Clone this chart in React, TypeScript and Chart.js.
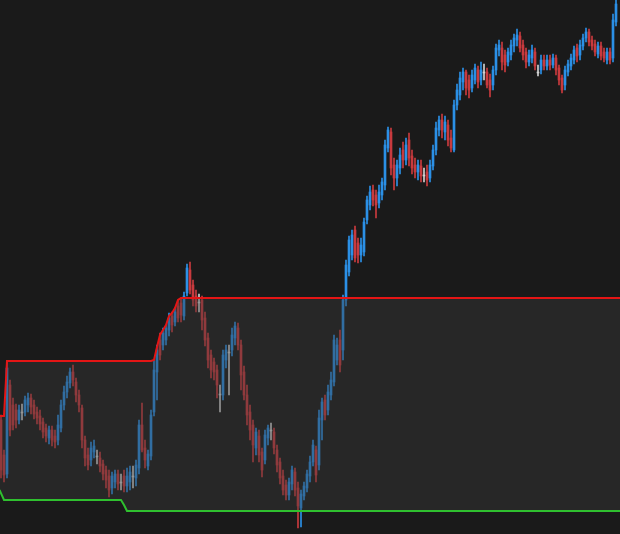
import { useEffect, useRef } from "react";
import { Chart, registerables } from "chart.js";

Chart.register(...registerables);

// OHLC candles (price units)
const opens = [
  114, 79, 60, 149, 129, 124, 114, 122, 122, 129,
  136, 129, 122, 118, 112, 106, 96, 104, 98, 94,
  106, 129, 142, 151, 162, 152, 139, 126, 94, 79,
  74, 82, 78, 76, 70, 64, 58, 46, 52, 60,
  52, 58, 48, 52, 58, 56, 66, 109, 86, 68,
  78, 122, 162, 194, 189, 194, 204, 218, 212, 228,
  231, 218, 241, 264, 249, 238, 232, 234, 216, 196,
  179, 172, 164, 140, 139, 174, 182, 184, 196, 206,
  189, 162, 139, 122, 109, 86, 98, 82, 74, 96,
  104, 102, 84, 72, 58, 49, 39, 50, 62, 46,
  26, 38, 46, 58, 72, 84, 69, 114, 134, 124,
  139, 152, 174, 194, 184, 234, 262, 279, 304, 291,
  279, 282, 314, 329, 344, 339, 331, 339, 349, 386,
  402, 369, 356, 366, 384, 374, 394, 378, 369, 362,
  368, 359, 362, 356, 368, 384, 404, 414, 402, 409,
  396, 384, 429, 439, 452, 462, 454, 446, 454, 464,
  454, 462, 462, 454, 449, 464, 484, 486, 479, 472,
  479, 488, 494, 498, 489, 482, 472, 476, 482, 462,
  464, 474, 468, 474, 469, 476, 466, 456, 449, 462,
  468, 474, 486, 479, 488, 496, 502, 494, 490, 480,
  488, 482, 474, 482, 476, 512,
];
const highs = [
  119, 84, 172, 154, 136, 130, 129, 130, 138, 141,
  140, 134, 127, 124, 116, 110, 108, 108, 104, 119,
  134, 148, 158, 166, 169, 156, 144, 129, 98, 86,
  92, 94, 84, 82, 74, 68, 64, 62, 64, 64,
  60, 64, 66, 68, 68, 74, 114, 131, 94, 84,
  124, 174, 189, 201, 206, 209, 221, 222, 226, 234,
  236, 242, 270, 272, 254, 244, 240, 238, 222, 201,
  184, 176, 169, 149, 184, 189, 189, 206, 212, 211,
  194, 168, 149, 129, 114, 106, 104, 86, 104, 109,
  111, 106, 89, 76, 64, 54, 56, 68, 66, 52,
  44, 52, 64, 78, 94, 88, 124, 136, 139, 149,
  162, 199, 196, 204, 239, 274, 298, 304, 308, 296,
  296, 316, 338, 348, 349, 344, 349, 356, 394, 407,
  406, 376, 374, 386, 392, 396, 401, 384, 376, 374,
  374, 366, 369, 374, 389, 412, 418, 420, 418, 414,
  404, 434, 450, 462, 466, 464, 459, 464, 470, 468,
  472, 470, 466, 460, 468, 490, 494, 492, 484, 486,
  494, 500, 505, 502, 494, 486, 484, 489, 486, 469,
  479, 479, 479, 479, 480, 479, 469, 459, 468, 474,
  480, 488, 490, 494, 500, 506, 505, 498, 494, 492,
  492, 486, 486, 486, 520, 534,
];
const lows = [
  56, 52, 56, 98, 104, 106, 110, 114, 118, 122,
  120, 115, 110, 104, 96, 92, 90, 88, 86, 89,
  102, 124, 136, 146, 148, 132, 122, 86, 68, 64,
  68, 76, 70, 62, 54, 46, 37, 40, 46, 44,
  44, 42, 42, 44, 46, 48, 60, 82, 66, 64,
  74, 118, 134, 174, 184, 189, 198, 202, 208, 212,
  212, 214, 238, 240, 228, 222, 222, 204, 188, 166,
  156, 154, 136, 122, 134, 166, 139, 178, 189, 184,
  144, 134, 109, 94, 72, 79, 72, 57, 70, 89,
  94, 80, 62, 50, 39, 34, 34, 44, 38, 6,
  7, 34, 42, 52, 68, 52, 64, 94, 114, 119,
  134, 148, 169, 162, 174, 228, 258, 274, 272, 271,
  272, 278, 310, 324, 328, 316, 326, 334, 344, 382,
  359, 344, 348, 360, 366, 369, 368, 360, 356, 354,
  352, 352, 348, 352, 364, 379, 398, 396, 394, 388,
  382, 382, 424, 434, 444, 439, 436, 442, 450, 446,
  449, 454, 446, 437, 444, 459, 478, 464, 462, 468,
  474, 482, 488, 482, 474, 466, 468, 471, 464, 458,
  460, 464, 464, 464, 466, 459, 449, 441, 444, 458,
  464, 470, 472, 474, 484, 492, 488, 484, 478, 476,
  474, 472, 470, 470, 472, 508,
];
const closes = [
  64, 59, 166, 104, 109, 114, 124, 121, 134, 136,
  127, 120, 116, 110, 102, 98, 104, 94, 92, 109,
  129, 142, 152, 162, 154, 139, 129, 94, 76, 69,
  86, 88, 77, 68, 60, 54, 44, 58, 60, 50,
  51, 48, 58, 62, 57, 69, 109, 84, 74, 80,
  119, 164, 184, 179, 201, 206, 216, 209, 222, 216,
  219, 238, 266, 244, 234, 228, 231, 214, 194, 174,
  164, 162, 149, 139, 179, 184, 181, 199, 208, 189,
  159, 139, 119, 104, 89, 102, 79, 64, 99, 106,
  103, 86, 69, 56, 44, 39, 52, 64, 44, 28,
  40, 48, 60, 72, 89, 59, 116, 132, 119, 142,
  154, 194, 189, 169, 234, 269, 294, 299, 276, 279,
  289, 312, 334, 342, 334, 329, 342, 352, 389, 404,
  366, 356, 369, 379, 374, 389, 376, 366, 362, 369,
  358, 358, 354, 369, 384, 406, 414, 404, 412, 394,
  386, 429, 444, 456, 462, 446, 444, 459, 466, 452,
  464, 461, 449, 444, 464, 486, 489, 472, 469, 482,
  489, 496, 499, 486, 479, 472, 479, 484, 468, 461,
  474, 468, 474, 469, 476, 464, 454, 444, 464, 470,
  476, 484, 478, 489, 496, 502, 492, 488, 482, 488,
  478, 476, 482, 474, 514, 530,
];

// Range box: upper (red) and lower (green) levels at candle indices
const levelIdx = [-0.5, 1, 2, 40, 41, 42, 50, 51, 52, 53, 54, 55, 56, 57, 58, 59, 60, 206.5];
const upperLevel = [118, 118, 173, 173, 173, 173, 173, 174, 187, 199, 204, 209, 218, 221, 226, 234, 236, 236];
const lowerLevel = [44, 34, 34, 34, 29, 23, 23, 23, 23, 23, 23, 23, 23, 23, 23, 23, 23, 23];

const BG = "#1a1a1a";
const UP = "#2b90e6";
const DOWN = "#c93a3e";
const DOJI = "#d2d2d2";

export default function App() {
  const ref = useRef<HTMLCanvasElement>(null);

  useEffect(() => {
    const idx = opens.map((_, i) => i);
    const colors = idx.map((i) => {
      const d = closes[i] - opens[i];
      if (Math.abs(d) <= 1) return DOJI;
      return d > 0 ? UP : DOWN;
    });
    const chart = new Chart(ref.current as HTMLCanvasElement, {
      type: "bar",
      data: {
        datasets: [
          {
            type: "line",
            label: "Upper",
            data: levelIdx.map((x, i) => ({ x, y: upperLevel[i] })),
            borderColor: "#e41515",
            borderWidth: 2,
            pointRadius: 0,
            tension: 0,
            fill: "+1",
            backgroundColor: "rgba(61,61,61,0.4)",
            order: 0,
          } as any,
          {
            type: "line",
            label: "Lower",
            data: levelIdx.map((x, i) => ({ x, y: lowerLevel[i] })),
            borderColor: "#2fc02f",
            borderWidth: 2,
            pointRadius: 0,
            tension: 0,
            fill: false,
            order: -1,
          } as any,
          {
            type: "bar",
            label: "Wicks",
            data: idx.map((i) => ({ x: i, y: [lows[i], highs[i]] })),
            backgroundColor: colors,
            barThickness: 1,
            grouped: false,
            order: 2,
          } as any,
          {
            type: "bar",
            label: "Bodies",
            data: idx.map((i) => ({ x: i, y: [opens[i], closes[i]] })),
            backgroundColor: colors,
            barThickness: 2,
            grouped: false,
            order: 1,
          } as any,
        ],
      },
      options: {
        animation: false,
        responsive: false,
        maintainAspectRatio: false,
        layout: { padding: 0 },
        plugins: {
          legend: { display: false },
          tooltip: { enabled: false },
        },
        scales: {
          x: {
            type: "linear",
            display: false,
            min: -1 / 3,
            max: -1 / 3 + 620 / 3,
            offset: false,
          },
          y: { display: false, min: 0, max: 534 },
        },
      } as any,
    });
    return () => chart.destroy();
  }, []);

  return (
    <div
      style={{
        position: "fixed",
        left: 0,
        top: 0,
        width: 620,
        height: 534,
        background: BG,
      }}
    >
      <canvas ref={ref} width={620} height={534} style={{ display: "block" }} />
    </div>
  );
}
